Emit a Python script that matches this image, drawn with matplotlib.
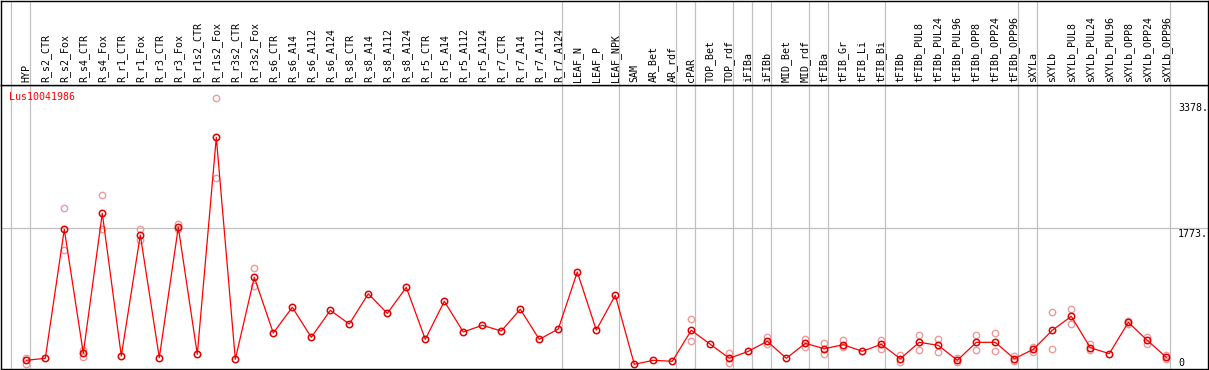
import matplotlib
matplotlib.use("Agg")
import matplotlib.pyplot as plt
import matplotlib.transforms as mtransforms

title = "Lus10041986"
samples = ["HYP", "R_s2_CTR", "R_s2_Fox", "R_s4_CTR", "R_s4_Fox", "R_r1_CTR", "R_r1_Fox",
           "R_r3_CTR", "R_r3_Fox", "R_r1s2_CTR", "R_r1s2_Fox", "R_r3s2_CTR", "R_r3s2_Fox",
           "R_s6_CTR", "R_s6_A14", "R_s6_A112", "R_s6_A124", "R_s8_CTR", "R_s8_A14",
           "R_s8_A112", "R_s8_A124", "R_r5_CTR", "R_r5_A14", "R_r5_A112", "R_r5_A124",
           "R_r7_CTR", "R_r7_A14", "R_r7_A112", "R_r7_A124", "LEAF_N", "LEAF_P", "LEAF_NPK",
           "SAM", "AR_Bet", "AR_rdf", "cPAR", "TOP_Bet", "TOP_rdf", "iFIBa", "iFIBb",
           "MID_Bet", "MID_rdf", "tFIBa", "tFIB_Gr", "tFIB_Li", "tFIB_Bi", "tFIBb",
           "tFIBb_PUL8", "tFIBb_PUL24", "tFIBb_PUL96", "tFIBb_OPP8", "tFIBb_OPP24",
           "tFIBb_OPP96", "sXYLa", "sXYLb", "sXYLb_PUL8", "sXYLb_PUL24", "sXYLb_PUL96",
           "sXYLb_OPP8", "sXYLb_OPP24", "sXYLb_OPP96"]

means = [143, 168, 1761, 230, 1958, 196, 1690, 175, 1785, 217, 2896, 156, 1168,
         480, 798, 427, 760, 591, 965, 723, 1044, 402, 872, 493, 575, 505, 773, 402, 530,
         1233, 517, 946, 94, 143, 131, 514, 341, 168, 254, 378, 168, 353, 286, 336, 254,
         341, 163, 365, 328, 143, 365, 365, 163, 279, 514, 686, 299, 225, 612, 390, 180]

# replicate values: (sample index, value)
rep_index = [0, 0, 2, 2, 3, 3, 4, 4, 6, 6, 8, 8, 10, 10, 12, 12,
             35, 35, 37, 37, 39, 39, 41, 41, 42, 42, 43, 43, 45, 45, 46, 46,
             47, 47, 48, 48, 49, 49, 50, 50, 51, 51, 52, 52, 53, 53, 54, 54,
             55, 55, 56, 56, 58, 58, 59, 59, 60, 60]
rep_value = [175, 101, 2020, 1501, 270, 188, 2184, 1761, 1764, 1625, 1822, 1761, 3378, 2398, 1283, 1064,
             649, 378, 230, 110, 427, 341, 402, 304, 353, 225, 394, 311, 394, 286, 209, 126,
             456, 267, 406, 249, 119, 167, 456, 267, 477, 254, 200, 135, 311, 249, 736, 279,
             777, 588, 344, 270, 632, 591, 435, 344, 205, 156]

# group separators: after these sample indices
separators = [-1, 0, 28, 31, 34, 35, 37, 38, 39, 41, 42, 45, 52, 53, 60]
y_marks = [3378, 1773, 0]
y_mark_labels = ["3378.", "1773.", "0"]
grid_value = 1773

W, H = 1209, 370
fig = plt.figure(figsize=(W / 100, H / 100), dpi=100)
mono = "DejaVu Sans Mono"
fs = 7.2

def px2fig(x, y):
    return x / W, 1 - y / H

ax = fig.add_axes([1 / W, 1 / H, 1207 / W, 284 / H])
axt = fig.add_axes([1 / W, 285 / H, 1207 / W, 84.5 / H], sharex=ax)

# pixel -> data mapping
x0px, dxpx = 26.3, 19.0
a_px, b_px = 371.9, 0.081
ax.set_xlim((1 - x0px) / dxpx, (1208 - x0px) / dxpx)
ax.set_ylim((a_px - 369) / b_px, (a_px - 85) / b_px)
axt.set_ylim(0, 1)

for a in (ax, axt):
    a.set_xticks([])
    a.set_yticks([])
    for s in a.spines.values():
        s.set_color("black")
        s.set_linewidth(1.0)
    for sep in separators:
        a.axvline(sep + 0.21, color="#c0c0c0", lw=0.9, zorder=0)

ax.axhline(grid_value, color="#c0c0c0", lw=0.9, zorder=0)

xs = list(range(len(samples)))
ax.plot(rep_index, rep_value, linestyle="none", marker="o", markersize=4.6,
        markerfacecolor="none", markeredgecolor="#ee9a9a", markeredgewidth=1.0, zorder=2)
ax.plot(xs, means, color="#ff0000", lw=0.9, zorder=3)
ax.plot(xs, means, linestyle="none", marker="o", markersize=4.6,
        markerfacecolor="none", markeredgecolor="#e00000", markeredgewidth=1.1, zorder=4)

trans = mtransforms.blended_transform_factory(axt.transData, axt.transAxes)
for i, lab in enumerate(samples):
    axt.text(i, 2.5 / 84.5, lab, transform=trans, rotation=90, ha="center", va="bottom",
             fontsize=fs, family=mono, color="black")

fx, fy = px2fig(9, 92)
fig.text(fx, fy, title, color="#ff0000", fontsize=fs, family=mono, ha="left", va="top")

label_tops = [103, 229, 358]
for lab, top in zip(y_mark_labels, label_tops):
    fx, fy = px2fig(1178, top)
    fig.text(fx, fy, lab, color="black", fontsize=fs, family=mono, ha="left", va="top")

fig.savefig("out.png", dpi=100)
